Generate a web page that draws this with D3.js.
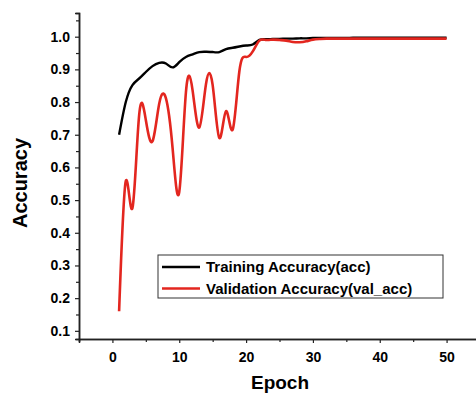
<!DOCTYPE html>
<html>
<head>
<meta charset="utf-8">
<script src="https://cdn.jsdelivr.net/npm/d3@7"></script>
<style>
  body { margin: 0; background: #fff; }
  text { font-family: "Liberation Sans", Arial, sans-serif; font-weight: bold; fill: #000; }
</style>
</head>
<body>
<div id="chart-area"></div>
<script>
const chartAreaWidth = 476
const chartAreaHeight = 397

// data
const epochs = d3.range(1, 51)
const trainAcc = [0.700, 0.800, 0.852, 0.872, 0.892, 0.910, 0.920, 0.918, 0.906, 0.922,
                  0.938, 0.946, 0.953, 0.954, 0.953, 0.953, 0.962, 0.966, 0.970, 0.973,
                  0.976, 0.990, 0.992, 0.993, 0.993, 0.994, 0.994, 0.995, 0.995, 0.996,
                  0.996, 0.996, 0.996, 0.996, 0.996, 0.997, 0.997, 0.997, 0.997, 0.997,
                  0.997, 0.997, 0.997, 0.997, 0.997, 0.997, 0.997, 0.997, 0.997, 0.997]
const valAcc = [0.160, 0.558, 0.476, 0.760, 0.745, 0.680, 0.795, 0.812, 0.660, 0.525,
                0.830, 0.835, 0.722, 0.855, 0.852, 0.690, 0.772, 0.716, 0.895, 0.938,
                0.955, 0.988, 0.990, 0.991, 0.990, 0.988, 0.984, 0.983, 0.986, 0.991,
                0.993, 0.994, 0.994, 0.994, 0.994, 0.994, 0.994, 0.994, 0.994, 0.994,
                0.994, 0.994, 0.994, 0.994, 0.994, 0.994, 0.994, 0.994, 0.994, 0.994]
const seriesNames = ["Training Accuracy(acc)", "Validation Accuracy(val_acc)"]
const seriesColors = ["#000000", "#e3261f"]
const xTicks = [0, 10, 20, 30, 40, 50]
const xMinor = [-5, 5, 15, 25, 35, 45]
const yTicks = [0.1, 0.2, 0.3, 0.4, 0.5, 0.6, 0.7, 0.8, 0.9, 1.0]
const yMinor = [0.15, 0.25, 0.35, 0.45, 0.55, 0.65, 0.75, 0.85, 0.95, 1.05]

const margin = {top: 13, right: -4, bottom: 58, left: 79}
const width = chartAreaWidth - margin.left - margin.right
const height = chartAreaHeight - margin.top - margin.bottom

const svg = d3.select("#chart-area").append("svg")
    .attr("width", chartAreaWidth)
    .attr("height", chartAreaHeight)

const g = svg.append("g")
    .attr("transform", `translate(${margin.left}, ${margin.top})`)

const x = d3.scaleLinear().domain([-5, 55]).range([0, width])
const y = d3.scaleLinear().domain([0.075, 1.0725]).range([height, 0])

// lines
const series = [trainAcc, valAcc]
series.forEach((vals, i) => {
    const line = d3.line()
        .x((d, j) => x(epochs[j]))
        .y(d => y(d))
        .curve(d3.curveNatural)
    g.append("path")
        .datum(vals)
        .attr("fill", "none")
        .attr("stroke", seriesColors[i])
        .attr("stroke-width", i === 0 ? 2.4 : 2.6)
        .attr("d", line)
})

// axes
function styleAxis(sel) {
    sel.select(".domain").attr("stroke", "#222").attr("stroke-width", 1.5)
    sel.selectAll(".tick line").attr("stroke", "#222").attr("stroke-width", 1.2)
    sel.selectAll(".tick text")
        .attr("font-size", "14px")
        .attr("font-family", "Liberation Sans, Arial, sans-serif")
        .attr("font-weight", "bold")
        .attr("fill", "#000")
}

g.append("g")
    .attr("transform", `translate(0, ${height})`)
    .call(d3.axisBottom(x).tickValues(xMinor).tickSize(3).tickFormat(""))
    .call(styleAxis)
g.append("g")
    .attr("transform", `translate(0, ${height})`)
    .call(d3.axisBottom(x).tickValues(xTicks).tickSize(4).tickPadding(9).tickFormat(d3.format("d")))
    .call(styleAxis)

g.append("g")
    .call(d3.axisLeft(y).tickValues(yMinor).tickSize(3).tickFormat(""))
    .call(styleAxis)
g.append("g")
    .call(d3.axisLeft(y).tickValues(yTicks).tickSize(4).tickPadding(5).tickFormat(d3.format(".1f")))
    .call(styleAxis)

// axis labels
svg.append("text")
    .attr("x", 280)
    .attr("y", 389)
    .attr("text-anchor", "middle")
    .attr("font-size", "19px")
    .text("Epoch")

svg.append("text")
    .attr("transform", "translate(27, 183) rotate(-90)")
    .attr("text-anchor", "middle")
    .attr("font-size", "20px")
    .text("Accuracy")

// legend
const legend = svg.append("g").attr("transform", "translate(158, 255)")
legend.append("rect")
    .attr("width", 285)
    .attr("height", 43)
    .attr("fill", "#fff")
    .attr("stroke", "#333")
    .attr("stroke-width", 1)

seriesNames.forEach((name, i) => {
    const ly = 12 + i * 21.5
    legend.append("line")
        .attr("x1", 4).attr("x2", 42)
        .attr("y1", ly).attr("y2", ly)
        .attr("stroke", seriesColors[i])
        .attr("stroke-width", 2.6)
    legend.append("text")
        .attr("x", 48)
        .attr("y", ly + 5)
        .attr("font-size", "15px")
        .text(name)
})
</script>
</body>
</html>
